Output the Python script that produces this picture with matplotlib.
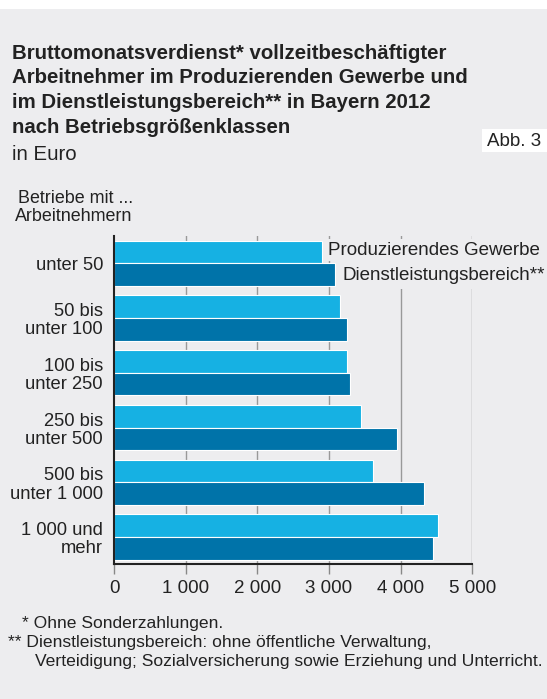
import numpy as np
import matplotlib.pyplot as plt
from matplotlib.patches import Rectangle

plt.rcParams["font.family"] = ["Liberation Sans", "DejaVu Sans"]

# data (Euro)
categories = ["unter 50", "50 bis\nunter 100", "100 bis\nunter 250",
              "250 bis\nunter 500", "500 bis\nunter 1 000", "1 000 und\nmehr"]
produzierend = [2900, 3155, 3255, 3445, 3620, 4525]
dienstleistung = [3085, 3245, 3295, 3945, 4325, 4445]
xticks = [0, 1000, 2000, 3000, 4000, 5000]
xticklabels = ["0", "1 000", "2 000", "3 000", "4 000", "5 000"]

BG = "#ededef"
LIGHT = "#16b1e3"
DARK = "#0073a9"
TXT = "#222222"

W, H = 547, 699
fig = plt.figure(figsize=(W / 100, H / 100), dpi=100, facecolor=BG)
# white strip along the top edge
fig.patches.append(Rectangle((0, 1 - 9 / H), 1, 9 / H, transform=fig.transFigure,
                             facecolor="white", edgecolor="none", zorder=0))

ax = fig.add_axes([114 / W, 1 - 564.3 / H, (472.3 - 114) / W, (564.3 - 236) / H])
ax.set_facecolor(BG)

y = np.arange(len(categories))
h = 0.415
ax.barh(y - h / 2, produzierend, height=h, color=LIGHT, edgecolor="white", lw=0.8, zorder=3)
ax.barh(y + h / 2, dienstleistung, height=h, color=DARK, edgecolor="white", lw=0.8, zorder=3)

ax.set_xlim(0, 5000)
ax.set_ylim(5.5, -0.5)
ax.set_xticks(xticks)
ax.set_xticklabels(xticklabels, fontsize=13.5, color=TXT)
ax.set_yticks(y)
ax.set_yticklabels(categories, fontsize=13.2, color=TXT, linespacing=1.1)
ax.tick_params(axis="y", length=0, pad=8)
ax.tick_params(axis="x", length=7, width=1, color="#888888", pad=4)
for x in xticks[1:]:
    ax.axvline(x, color="#999999", lw=1, zorder=1)
for s in ["top", "right"]:
    ax.spines[s].set_visible(False)
for s in ["left", "bottom"]:
    ax.spines[s].set_color(TXT)
    ax.spines[s].set_linewidth(1.5)
    ax.spines[s].set_zorder(4)


def px(xp, yp, s, **kw):
    fig.text(xp / W, 1 - yp / H, s, color=TXT, **kw)


# legend labels written beside the first group
px(328, 250, "Produzierendes Gewerbe", fontsize=13.5, va="center", zorder=5,
   bbox=dict(facecolor=BG, edgecolor="none", pad=2))
px(343, 275, "Dienstleistungsbereich**", fontsize=13.5, va="center", zorder=5,
   bbox=dict(facecolor=BG, edgecolor="none", pad=4))

# titles
title_lines = ["Bruttomonatsverdienst* vollzeitbeschäftigter",
               "Arbeitnehmer im Produzierenden Gewerbe und",
               "im Dienstleistungsbereich** in Bayern 2012",
               "nach Betriebsgrößenklassen"]
for line, yb in zip(title_lines, [59, 83, 108, 133]):
    px(12, yb, line, fontsize=14.7, fontweight="bold", va="baseline")
px(12, 160, "in Euro", fontsize=14.7, va="baseline")
fig.patches.append(Rectangle((482 / W, 1 - 152 / H), 65 / W, 23 / H,
                             transform=fig.transFigure, facecolor="white",
                             edgecolor="none", zorder=1))
px(487, 146, "Abb. 3", fontsize=13.5, va="baseline", zorder=2)
px(18, 203, "Betriebe mit ...", fontsize=12.9, va="baseline")
px(15, 221, "Arbeitnehmern", fontsize=12.9, va="baseline")

# footnotes
px(22, 628, "* Ohne Sonderzahlungen.", fontsize=12.6, va="baseline")
px(8, 647, "** Dienstleistungsbereich: ohne öffentliche Verwaltung,",
   fontsize=12.6, va="baseline")
px(35, 666, "Verteidigung; Sozialversicherung sowie Erziehung und Unterricht.",
   fontsize=12.6, va="baseline")

fig.savefig("out.png", dpi=100, facecolor=BG)
